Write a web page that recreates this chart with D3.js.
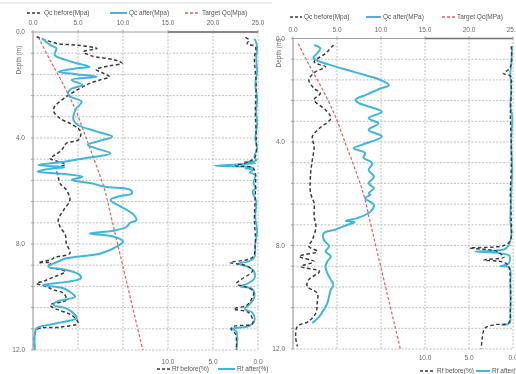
<!DOCTYPE html>
<html>
<head>
<meta charset="utf-8">
<script src="https://cdn.jsdelivr.net/npm/d3@7"></script>
<style>
  body { margin: 0; background: #fff; }
  svg { display: block; font-family: "Liberation Sans", Arial, sans-serif; filter: blur(0.3px); }
  .grid line { stroke: #b8b8b8; stroke-width: 0.9; stroke-dasharray: 2,1.5; }
  .tick-label { fill: #6a6a6a; font-size: 6.5px; }
  .legend text { fill: #555; font-size: 6.5px; }
</style>
</head>
<body>
<script>
// depth (m) / value pairs
var depthTicks = [0, 4, 8, 12];
var qcTicks = [0, 5, 10, 15, 20, 25];
var rfTicks = [10, 5, 0];

var targetQc = [[0.2,0.6],[1,1.8],[2,3.4],[3,4.8],[4,5.9],[5,7.0],[6,8.0],[7,8.7],[8,9.4],[9,10.1],[10,10.8],[11,11.5],[12,12.2]];

var leftQcBefore = [[0.18,0.4],[0.43,2.6],[0.5,5.0],[0.62,7.1],[0.74,5.6],[0.9,6.5],[1.05,9.0],[1.18,9.9],[1.28,8.5],[1.41,7.0],[1.55,7.8],[1.69,8.5],[1.8,7.5],[1.94,6.3],[2.13,5.2],[2.44,3.7],[2.82,2.4],[3.0,2.3],[3.26,3.0],[3.45,4.1],[3.7,5.2],[3.9,5.3],[4.08,5.0],[4.2,3.7],[4.45,3.2],[4.65,2.4],[4.77,1.9],[4.89,2.8],[5.0,3.6],[5.15,2.6],[5.46,2.8],[5.71,3.0],[5.96,3.7],[6.34,4.1],[6.72,3.4],[7.1,2.8],[7.35,3.0],[7.66,3.6],[7.97,3.7],[8.35,4.1],[8.5,2.5],[8.6,1.9],[8.7,0.6],[8.72,2.0],[8.85,1.7],[9.04,3.6],[9.23,2.4],[9.4,1.2],[9.48,0.4],[9.61,1.5],[9.73,2.3],[9.86,3.4],[10.11,3.7],[10.3,1.9],[10.43,2.4],[10.62,3.9],[10.8,4.7],[10.99,5.0],[11.14,3.0],[11.24,0.4],[12.0,0.2]];

var leftQcAfter = [[0.24,1.0],[0.49,1.9],[0.62,2.6],[0.87,2.4],[1.06,3.7],[1.18,4.85],[1.31,6.3],[1.37,4.85],[1.5,2.8],[1.6,5.0],[1.69,7.1],[1.81,4.3],[2.0,5.5],[2.15,4.2],[2.31,3.9],[2.44,4.2],[2.63,5.4],[2.94,4.7],[3.32,4.5],[3.51,5.0],[3.75,7.0],[3.95,8.8],[4.1,7.5],[4.26,6.1],[4.39,7.0],[4.58,8.6],[4.77,5.6],[4.9,3.5],[5.02,0.6],[5.1,3.5],[5.18,1.5],[5.27,0.5],[5.35,3.2],[5.46,5.5],[5.58,4.3],[5.71,6.5],[5.84,8.0],[5.95,10.8],[6.09,11.0],[6.2,9.6],[6.34,8.6],[6.6,9.8],[6.9,11.2],[7.1,11.5],[7.2,10.8],[7.35,10.4],[7.5,9.0],[7.6,6.3],[7.72,8.9],[7.9,10.0],[8.1,9.3],[8.35,7.6],[8.54,3.7],[8.66,2.8],[8.85,1.7],[8.98,3.7],[9.17,5.2],[9.3,5.3],[9.42,3.9],[9.55,1.1],[9.67,3.4],[9.86,4.3],[9.99,4.7],[10.18,2.6],[10.3,2.3],[10.43,3.7],[10.68,4.7],[10.8,4.85],[10.99,2.6],[11.18,0.4],[11.37,0.2],[12.0,0.2]];

var leftRfBefore = [[0.2,1.4],[0.3,1.0],[0.45,1.2],[0.55,0.3],[1.0,0.4],[1.5,0.3],[2,0.2],[3,0.3],[4,0.2],[4.7,0.3],[4.9,1.0],[5.05,2.5],[5.15,0.5],[6,0.3],[7,0.4],[8,0.3],[8.5,0.6],[8.7,3.1],[8.8,1.5],[9.0,0.6],[9.5,2.4],[9.6,1.5],[9.8,0.5],[10.3,1.2],[10.45,2.7],[10.6,1.0],[11.0,0.6],[11.1,2.6],[11.2,3.0],[11.4,2.5],[12.0,2.4]];

var leftRfAfter = [[0.25,0.4],[0.4,0.2],[0.6,0.1],[1.0,0.2],[1.5,0.1],[2.0,0.3],[2.5,0.1],[3.0,0.2],[3.5,0.1],[4.0,0.3],[4.4,0.1],[4.7,0.4],[4.85,0.2],[4.9,1.5],[4.95,0.3],[5.05,4.8],[5.1,0.6],[5.15,1.4],[5.2,0.5],[5.3,0.9],[5.4,0.3],[5.7,0.5],[5.9,0.2],[6.0,0.6],[6.4,0.2],[7,0.3],[7.5,0.1],[8,0.3],[8.5,0.4],[8.65,1.0],[8.75,2.2],[8.85,1.2],[9.0,0.5],[9.3,0.4],[9.5,1.2],[9.6,2.0],[9.7,0.6],[10.0,0.4],[10.3,1.0],[10.45,1.5],[10.6,0.6],[10.9,0.4],[11.1,1.0],[11.2,2.9],[11.3,2.4],[12.0,2.4]];

var rightQcBefore = [[0.25,4.6],[0.57,3.7],[0.9,2.4],[1.0,2.9],[1.09,3.7],[1.3,2.5],[1.6,1.8],[1.93,2.4],[2.12,3.1],[2.37,2.4],[2.76,3.7],[3.08,4.3],[3.47,3.0],[3.79,2.2],[4.18,2.4],[4.69,2.2],[5.21,2.0],[5.98,2.0],[6.37,2.4],[6.88,2.4],[7.27,2.6],[7.78,2.2],[8.03,1.8],[8.23,2.75],[8.42,0.7],[8.62,2.4],[8.81,0.9],[9.0,3.0],[9.32,1.8],[9.58,1.6],[9.84,2.75],[10.23,2.75],[10.61,2.6],[10.93,1.8],[11.13,0.5],[11.52,0.3],[11.9,0.5]];

var rightQcAfter = [[0.25,2.4],[0.38,3.1],[0.57,2.75],[0.75,2.3],[0.83,2.6],[1.0,4.0],[1.3,7.0],[1.6,9.9],[1.8,10.9],[1.95,9.8],[2.15,8.5],[2.37,7.1],[2.5,7.5],[2.83,10.1],[3.08,8.6],[3.28,9.7],[3.53,8.6],[3.79,10.1],[4.11,7.8],[4.24,6.9],[4.43,8.2],[4.6,8.0],[4.82,9.0],[5.08,8.6],[5.34,9.2],[5.6,8.6],[5.78,9.2],[5.98,8.6],[6.04,8.8],[6.17,8.2],[6.43,9.2],[6.69,8.8],[6.94,7.3],[7.05,6.0],[7.1,7.0],[7.2,6.2],[7.39,4.8],[7.52,3.5],[7.78,3.5],[8.03,4.1],[8.23,3.7],[8.42,4.3],[8.62,3.9],[8.81,3.7],[9.07,3.9],[9.32,4.3],[9.52,4.6],[9.71,4.3],[9.97,4.1],[10.23,3.9],[10.48,3.5],[10.74,3.0],[11.0,2.2]];

var rightRfBefore = [[0.3,0.2],[1.0,0.2],[1.2,0.5],[1.35,1.1],[1.45,0.3],[2,0.2],[3,0.3],[4,0.2],[5,0.2],[6,0.3],[7,0.2],[7.8,0.3],[8.0,1.0],[8.1,4.9],[8.2,2.0],[8.3,1.5],[8.45,1.0],[8.56,3.3],[8.65,1.0],[8.8,0.5],[9.5,0.3],[10.5,0.3],[11.0,0.5],[11.06,2.0],[11.2,3.2],[11.6,3.5],[12.0,3.6]];

var rightRfAfter = [[0.3,0.1],[1,0.2],[1.35,0.3],[2,0.2],[2.6,0.3],[3,0.1],[4,0.2],[5,0.1],[6,0.2],[7,0.3],[7.6,0.2],[8.0,0.5],[8.15,1.0],[8.23,4.3],[8.3,1.5],[8.4,0.4],[8.7,0.5],[8.8,1.5],[8.85,0.4],[9.5,0.3],[10.5,0.3],[11.0,0.4],[11.06,1.3]];

var colBefore = "#3a3a3a", colAfter = "#3fb6df", colTarget = "#e4605c";

var svg = d3.select("body").append("svg")
  .attr("width", 516).attr("height", 374);

svg.append("rect").attr("width", 516).attr("height", 374).attr("fill", "#fff");
svg.append("line").attr("x1", 0).attr("x2", 272).attr("y1", 3).attr("y2", 3)
  .attr("stroke", "#d8d8d8").attr("stroke-width", 1);

function drawPanel(p) {
  var x = d3.scaleLinear().domain([0, 25]).range([p.left, p.right]);
  var rf = d3.scaleLinear().domain([0, 25]).range([p.right, p.left]);
  var y = d3.scaleLinear().domain([0, 12]).range([p.top, p.bottom]);
  var g = svg.append("g");

  // grid
  var grid = g.append("g").attr("class", "grid");
  grid.selectAll(".h").data(d3.range(1, 16).map(function(i) { return i * 0.8; }))
    .enter().append("line")
    .attr("x1", p.left).attr("x2", p.right)
    .attr("y1", function(d) { return y(d); }).attr("y2", function(d) { return y(d); });
  grid.selectAll(".v").data(qcTicks.slice(1))
    .enter().append("line")
    .attr("x1", function(d) { return x(d); }).attr("x2", function(d) { return x(d); })
    .attr("y1", p.top).attr("y2", p.bottom);

  // axes
  g.append("line").attr("x1", p.left).attr("x2", p.right).attr("y1", p.top).attr("y2", p.top)
    .attr("stroke", "#a0a0a0").attr("stroke-width", 1.2);
  g.append("line").attr("x1", rf(0)).attr("x2", rf(10)).attr("y1", p.top).attr("y2", p.top)
    .attr("stroke", "#707070").attr("stroke-width", 1.5);
  g.append("line").attr("x1", p.left).attr("x2", p.left).attr("y1", p.top).attr("y2", p.bottom)
    .attr("stroke", "#a0a0a0").attr("stroke-width", 1.2);
  g.selectAll(".yt").data(d3.range(0, 16).map(function(i) { return i * 0.8; }))
    .enter().append("line")
    .attr("x1", p.left - 2).attr("x2", p.left)
    .attr("y1", function(d) { return y(d); }).attr("y2", function(d) { return y(d); })
    .attr("stroke", "#a0a0a0");
  g.selectAll(".xt").data(qcTicks)
    .enter().append("line")
    .attr("x1", function(d) { return x(d); }).attr("x2", function(d) { return x(d); })
    .attr("y1", p.top - 2).attr("y2", p.top)
    .attr("stroke", "#a0a0a0");

  g.selectAll(".xl").data(qcTicks).enter().append("text")
    .attr("class", "tick-label")
    .attr("x", function(d) { return x(d); }).attr("y", p.top - 7)
    .attr("text-anchor", "middle")
    .text(function(d) { return d3.format(".1f")(d); });
  g.selectAll(".yl").data(depthTicks).enter().append("text")
    .attr("class", "tick-label")
    .attr("x", p.left - 8).attr("y", function(d) { return y(d) + 2.2; })
    .attr("text-anchor", "end")
    .text(function(d) { return d3.format(".1f")(d); });
  g.selectAll(".rl").data(rfTicks).enter().append("text")
    .attr("class", "tick-label")
    .attr("x", function(d) { return rf(d); }).attr("y", p.rfLabelY)
    .attr("text-anchor", "middle")
    .text(function(d) { return d3.format(".1f")(d); });

  g.append("text").attr("class", "tick-label")
    .attr("transform", "translate(" + p.titleX + "," + p.titleY + ") rotate(-90)")
    .attr("text-anchor", "middle")
    .text("Depth (m)");

  // series
  var curve = d3.curveCatmullRom.alpha(0.5);
  var lineQc = d3.line().curve(curve).x(function(d) { return x(d[1]); }).y(function(d) { return y(d[0]); });
  var lineRf = d3.line().curve(curve).x(function(d) { return rf(d[1]); }).y(function(d) { return y(d[0]); });

  g.append("path").datum(targetQc).attr("d", lineQc).attr("fill", "none")
    .attr("stroke", colTarget).attr("stroke-width", 1.2).attr("stroke-dasharray", "3,2");
  g.append("path").datum(p.rfAfter).attr("d", lineRf).attr("fill", "none")
    .attr("stroke", colAfter).attr("stroke-width", 1.8).attr("stroke-linejoin", "round");
  g.append("path").datum(p.rfBefore).attr("d", lineRf).attr("fill", "none")
    .attr("stroke", colBefore).attr("stroke-width", 1.4).attr("stroke-dasharray", "3.5,2.5");
  g.append("path").datum(p.qcBefore).attr("d", lineQc).attr("fill", "none")
    .attr("stroke", colBefore).attr("stroke-width", 1.5).attr("stroke-dasharray", "3.5,2.5");
  g.append("path").datum(p.qcAfter).attr("d", lineQc).attr("fill", "none")
    .attr("stroke", colAfter).attr("stroke-width", 2).attr("stroke-linejoin", "round");

  // legends
  function legend(items, yPos) {
    var lg = svg.append("g").attr("class", "legend");
    items.forEach(function(it) {
      lg.append("line").attr("x1", it.x).attr("x2", it.x + it.w).attr("y1", yPos).attr("y2", yPos)
        .attr("stroke", it.c).attr("stroke-width", it.dash ? 1.4 : 2)
        .attr("stroke-dasharray", it.dash || null);
      lg.append("text").attr("x", it.x + it.w + 2).attr("y", yPos + 2.2).text(it.t);
    });
  }
  legend(p.topLegend, p.topLegendY);
  legend(p.botLegend, p.botLegendY);
}

drawPanel({
  left: 33, right: 258, top: 32, bottom: 350,
  rfLabelY: 364, titleX: 21, titleY: 60,
  qcBefore: leftQcBefore, qcAfter: leftQcAfter,
  rfBefore: leftRfBefore, rfAfter: leftRfAfter,
  topLegendY: 13,
  topLegend: [
    { x: 27, w: 15, c: colBefore, dash: "3,2", t: "Qc before(Mpa)" },
    { x: 110, w: 17, c: colAfter, t: "Qc after(Mpa)" },
    { x: 185, w: 15, c: colTarget, dash: "3,2", t: "Target Qc(Mpa)" }
  ],
  botLegendY: 369,
  botLegend: [
    { x: 157, w: 13, c: colBefore, dash: "3,2", t: "Rf before(%)" },
    { x: 218, w: 17, c: colAfter, t: "Rf after(%)" }
  ]
});

drawPanel({
  left: 293, right: 513, top: 38.5, bottom: 349,
  rfLabelY: 360, titleX: 281, titleY: 53,
  qcBefore: rightQcBefore, qcAfter: rightQcAfter,
  rfBefore: rightRfBefore, rfAfter: rightRfAfter,
  topLegendY: 17,
  topLegend: [
    { x: 290, w: 12, c: colBefore, dash: "3,2", t: "Qc before(Mpa)" },
    { x: 366, w: 15, c: colAfter, t: "Qc after(MPa)" },
    { x: 442, w: 13, c: colTarget, dash: "3,2", t: "Target Qc(MPa)" }
  ],
  botLegendY: 371,
  botLegend: [
    { x: 420, w: 15, c: colBefore, dash: "3,2", t: "Rf before(%)" },
    { x: 476, w: 14, c: colAfter, t: "Rf after(%)" }
  ]
});
</script>
</body>
</html>
